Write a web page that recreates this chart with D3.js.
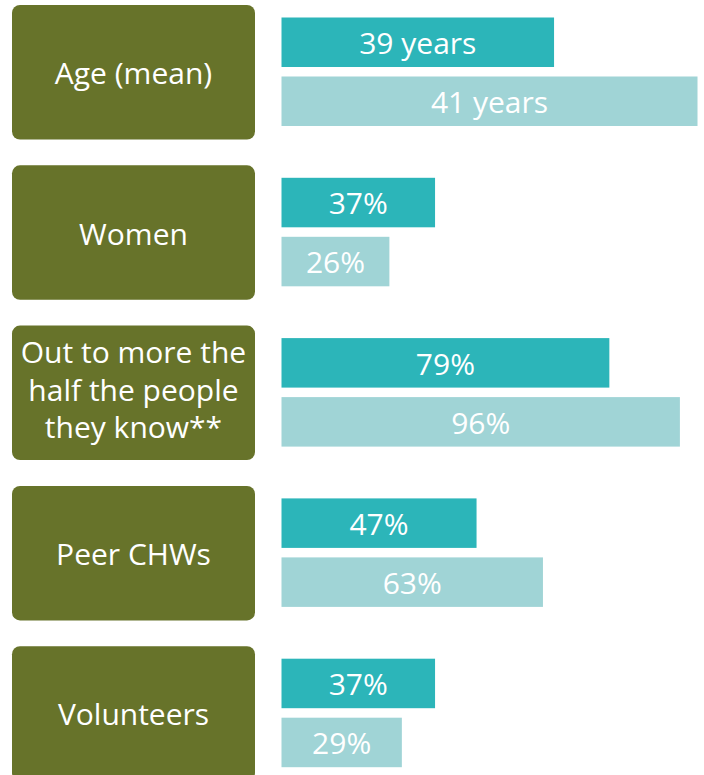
<!DOCTYPE html>
<html><head><meta charset="utf-8">
<script src="https://cdn.jsdelivr.net/npm/d3@7"></script>
<style>html,body{margin:0;padding:0;background:#fff;}</style>
</head><body>
<svg id="c" width="704" height="775"></svg>
<script>
const categories = ["Age (mean)", "Women", "Out to more the\nhalf the people\nthey know**", "Peer CHWs", "Volunteers"];
const seriesA = [39, 37, 79, 47, 37];
const seriesB = [41, 26, 96, 63, 29];
const units = ["years", "%", "%", "%", "%"];
const colors = {box: "#67732A", a: "#2CB5B9", b: "#A0D4D6"};

const svg = d3.select("#c");
const font = "'Open Sans', sans-serif";
const y = d3.scaleBand().domain(d3.range(categories.length)).range([5, 5 + 160.3 * 5]);
const pct = d3.scaleLinear().domain([0, 100]).range([0, 415]);
const age = d3.scaleLinear().domain([35.2, 41]).range([0, 416]);
const x0 = 281.5;
const boxH = 134.5;

categories.forEach((cat, i) => {
  const top = y(i);
  const g = svg.append("g");
  g.append("rect").attr("x", 12).attr("y", top).attr("width", 243).attr("height", boxH)
    .attr("rx", 8).attr("fill", colors.box);
  const lines = cat.split("\n");
  const n = lines.length;
  const lh = 37.5;
  const t = g.append("text").attr("fill", "#fff").attr("font-family", font).attr("font-size", 30)
    .attr("text-anchor", "middle");
  lines.forEach((l, j) => {
    t.append("tspan").attr("x", 133.5)
      .attr("y", top + boxH / 2 + (n > 1 ? 8 : 12) + (j - (n - 1) / 2) * lh)
      .text(l);
  });
  const sc = units[i] === "years" ? age : pct;
  [[seriesA[i], colors.a, 12.5], [seriesB[i], colors.b, 71.5]].forEach(([v, col, off]) => {
    const w = sc(v);
    g.append("rect").attr("x", x0).attr("y", top + off).attr("width", w).attr("height", 49.5).attr("fill", col);
    g.append("text").attr("x", x0 + w / 2).attr("y", top + off + 25 + 11.5)
      .attr("text-anchor", "middle").attr("fill", "#fff").attr("font-family", font).attr("font-size", 30)
      .text(units[i] === "years" ? v + " years" : v + "%");
  });
});
</script>
</body></html>
